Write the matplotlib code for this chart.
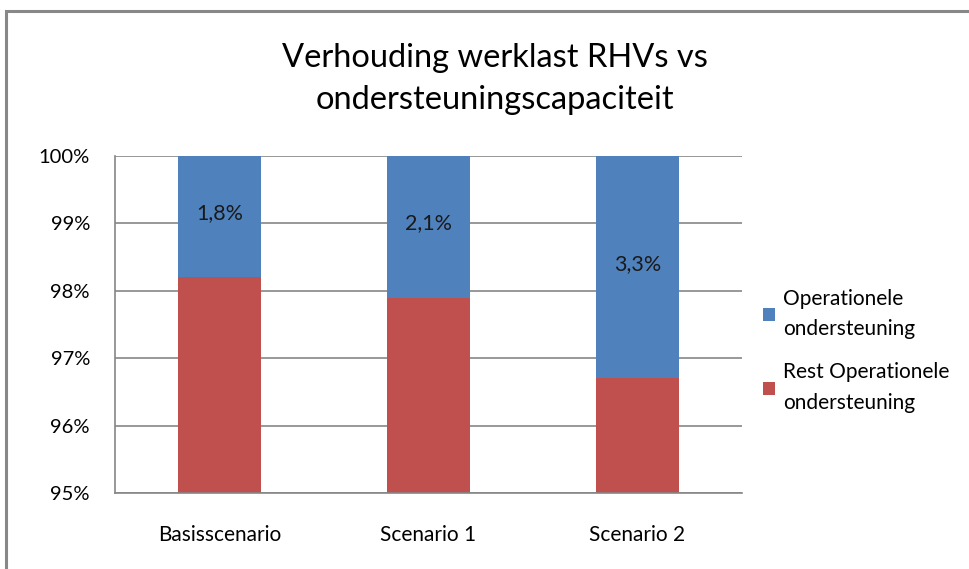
import matplotlib.pyplot as plt
from matplotlib.patches import Rectangle
from matplotlib.ticker import FuncFormatter

plt.rcParams['font.family'] = ['Lato', 'DejaVu Sans']

# data (percentages)
scenarios = ["Basisscenario", "Scenario 1", "Scenario 2"]
rest_ops = [98.2, 97.9, 96.7]
ops = [1.8, 2.1, 3.3]
ops_labels = ["1,8%", "2,1%", "3,3%"]
yticks = [95, 96, 97, 98, 99, 100]

blue = "#4F81BD"
red = "#C0504D"
grid_col = "#868686"

fig = plt.figure(figsize=(9.7, 5.69), dpi=100)
ax = fig.add_axes([115/970, 1 - 493/569, (742 - 115)/970, (493 - 156)/569])

x = range(len(scenarios))
ax.bar(x, rest_ops, width=0.4, color=red, label="Rest Operationele\nondersteuning", zorder=2)
ax.bar(x, ops, width=0.4, bottom=rest_ops, color=blue, label="Operationele\nondersteuning", zorder=2)

for i in x:
    ax.text(i, rest_ops[i] + ops[i] / 2 + 0.05, ops_labels[i], ha="center", va="center",
            fontsize=15.5, color="#1a1a1a", zorder=3)

ax.set_ylim(95, 100)
ax.set_xlim(-0.5, 2.5)
ax.set_yticks(yticks)
ax.yaxis.set_major_formatter(FuncFormatter(lambda v, p: f"{v:.0f}%"))
ax.set_xticks(list(x))
ax.set_xticklabels(scenarios)
ax.tick_params(axis="y", length=0, pad=18, labelsize=14.5)
ax.tick_params(axis="x", length=0, pad=23, labelsize=15)

ax.grid(axis="y", color=grid_col, linewidth=1.2, zorder=0)
for s in ["top", "right"]:
    ax.spines[s].set_visible(False)
ax.spines["left"].set_color(grid_col)
ax.spines["bottom"].set_color(grid_col)
ax.spines["left"].set_linewidth(1.2)
ax.spines["bottom"].set_linewidth(1.2)

# legend: blue first
h, l = ax.get_legend_handles_labels()
leg = ax.legend(h[::-1], l[::-1], loc="upper left", bbox_to_anchor=(763/970, 1 - 289/569),
                bbox_transform=fig.transFigure, frameon=False, fontsize=15,
                handlelength=0.6, handleheight=0.6, handletextpad=0.35,
                labelspacing=1.1, borderpad=0, borderaxespad=0)
for t in leg.get_texts():
    t.set_linespacing(1.65)

fig.text(495/970, 1 - 79/569, "Verhouding werklast RHVs vs\nondersteuningscapaciteit",
         ha="center", va="center", fontsize=23.5, linespacing=1.5)

# outer chart border
fig.patches.append(Rectangle((6/970, -0.05), 1.2, 1 - 11/569 + 0.05, transform=fig.transFigure,
                             fill=False, edgecolor="#888888", linewidth=2.2))

plt.savefig("out.png", dpi=100)
